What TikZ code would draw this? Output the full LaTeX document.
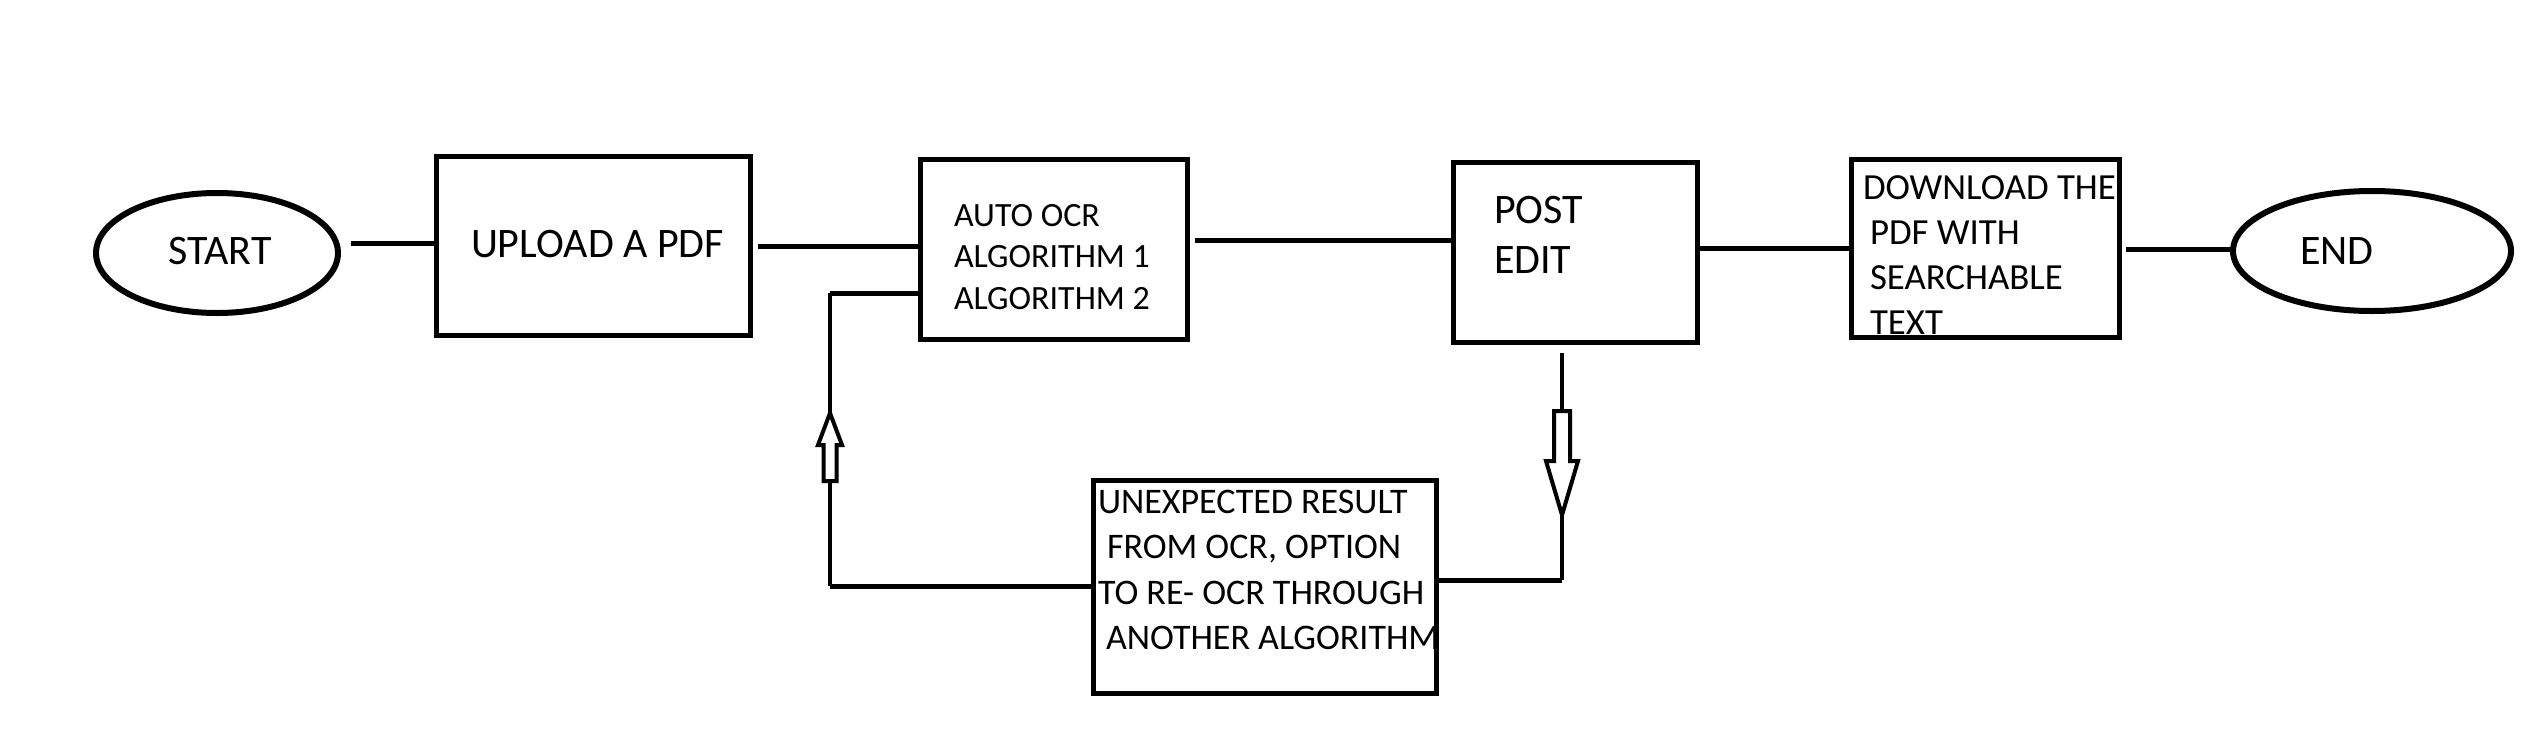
\documentclass[tikz,border=0pt]{standalone}
\usepackage{fontspec}
\setmainfont{Carlito}
\usetikzlibrary{shapes.geometric}
\begin{document}
\begin{tikzpicture}[x=1pt,y=-1pt,
  box/.style={draw, line width=5pt, rectangle, inner sep=0pt, outer sep=0pt},
  oval/.style={draw, line width=6pt, ellipse, inner sep=0pt, outer sep=0pt},
  conn/.style={line width=5pt},
  thinconn/.style={line width=4pt},
  hollow/.style={draw, line width=4pt, fill=white, line join=miter},
  txt/.style={inner sep=0pt, outer sep=0pt, align=left}]
\useasboundingbox (0,0) rectangle (2539,744);
\fill[white] (0,0) rectangle (2539,744);

% shapes
\node[oval, minimum width=242pt, minimum height=120pt] (start) at (217,253) {};
\node[box, minimum width=314pt, minimum height=179pt] (upload) at (593.5,246) {};
\node[box, minimum width=267pt, minimum height=180pt] (auto) at (1054,249.5) {};
\node[box, minimum width=244pt, minimum height=180pt] (post) at (1575.5,252.5) {};
\node[box, minimum width=268pt, minimum height=178pt] (download) at (1985.5,248.5) {};
\node[oval, minimum width=278pt, minimum height=120pt] (endn) at (2372,251) {};
\node[box, minimum width=343pt, minimum height=213pt] (unexp) at (1265,587) {};

% texts (anchor = baseline of the last line)
\node[txt, anchor=base, font=\fontsize{42}{50}\selectfont] (tstart) at (220,264) {START};
\node[txt, anchor=base west, font=\fontsize{42}{50}\selectfont] (tupload) at (471,257) {UPLOAD A PDF};
\node[txt, anchor=base west, font=\fontsize{34}{41.5}\selectfont] (tauto) at (954,309) {AUTO OCR\\ALGORITHM 1\\ALGORITHM 2};
\node[txt, anchor=base west, font=\fontsize{42}{50}\selectfont] (tpost) at (1494,273) {POST\\EDIT};
\node[txt, anchor=base west, font=\fontsize{36.8}{44.7}\selectfont] (tdown) at (1863,334) {DOWNLOAD THE\\\hspace{7pt}PDF WITH\\\hspace{7pt}SEARCHABLE\\\hspace{7pt}TEXT};
\node[txt, anchor=base, font=\fontsize{42}{50}\selectfont] (tend) at (2337,264) {END};
\node[txt, anchor=base west, font=\fontsize{36}{45.5}\selectfont] (tunexp) at (1098,649.5) {UNEXPECTED RESULT\\\hspace{9pt}FROM OCR, OPTION\\TO RE- OCR THROUGH\\\hspace{8pt}ANOTHER ALGORITHM};

% connector points
\coordinate (l1) at (351,243);
\coordinate (l2) at (758,246);
\coordinate (l3) at (1195,240);
\coordinate (l4) at (0,248);
\coordinate (l5) at (2126,249);
\coordinate (fbtop) at (830,293);
\coordinate (fbbot) at (830,586);
\coordinate (rtop) at (1562,353);
\coordinate (rbot) at (1562,580);

% main flow
\draw[conn] (l1) -- (l1 -| upload.west);
\draw[conn] (l2) -- (l2 -| auto.west);
\draw[conn] (l3) -- (l3 -| post.west);
\draw[conn] (l4 -| post.east) -- (l4 -| download.west);
\draw[conn] (l5) -- (l5 -| endn.west);

% feedback loop
\draw[conn] (fbtop -| auto.west) -- (fbtop);
\draw[thinconn] (fbtop) -- (fbbot);
\draw[conn] (fbbot) -- (fbbot -| unexp.west);
\draw[thinconn] (rtop) -- (rbot);
\draw[conn] (rbot -| unexp.east) -- (rbot);

% hollow arrows
\draw[hollow] (830,413) -- (842,445) -- (836.5,445) -- (836.5,481) -- (823.5,481) -- (823.5,445) -- (818,445) -- cycle;
\draw[hollow] (1562,515) -- (1578,461) -- (1570,461) -- (1570,411) -- (1554,411) -- (1554,461) -- (1546,461) -- cycle;
\end{tikzpicture}
\end{document}
